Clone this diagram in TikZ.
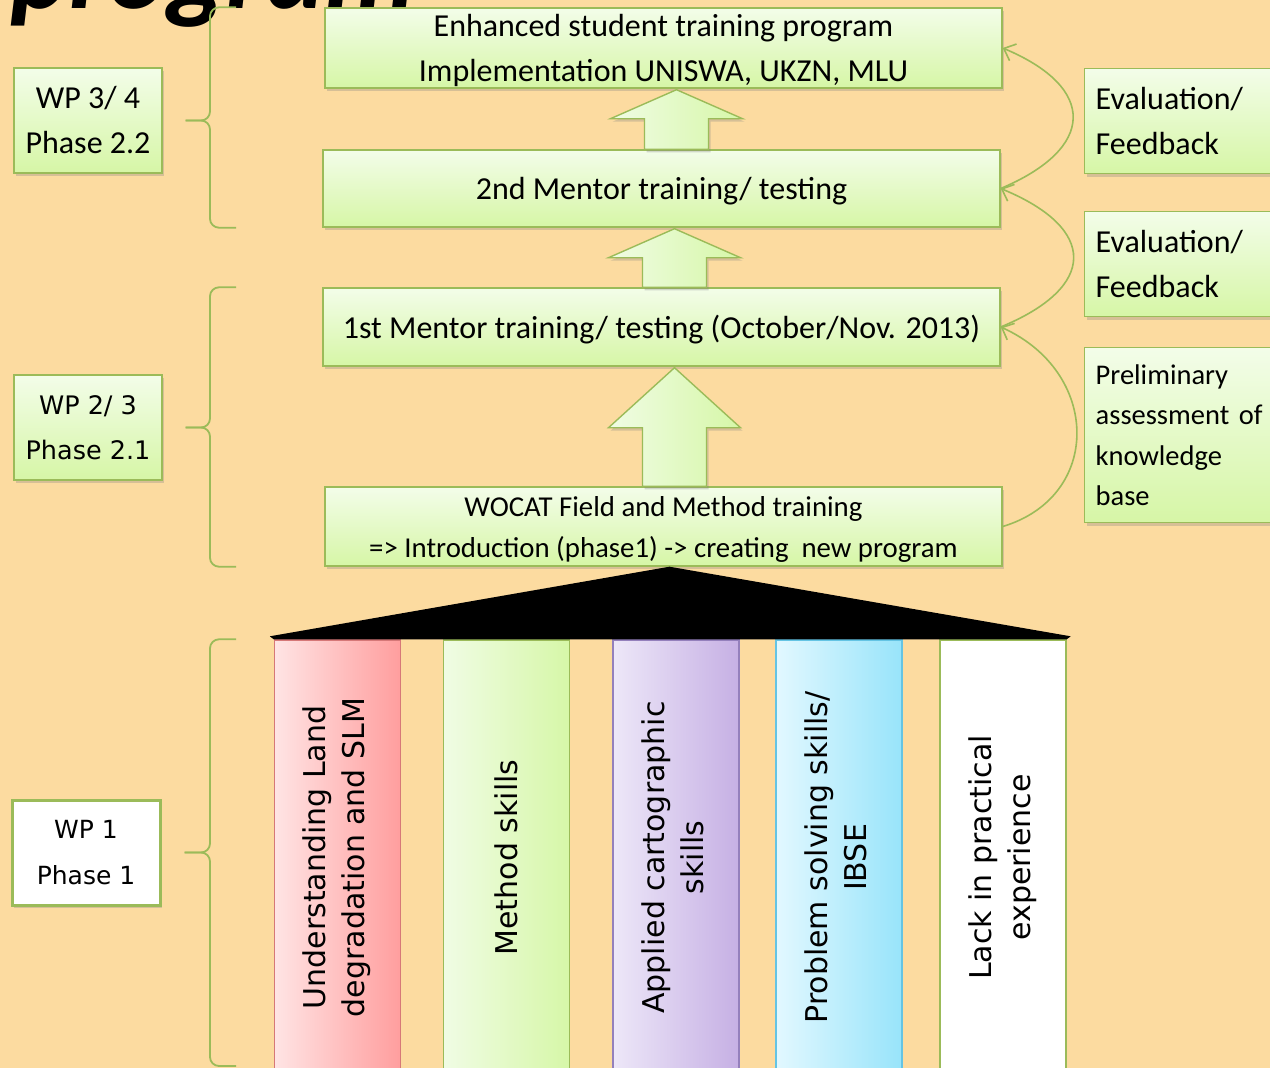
\documentclass[tikz,border=0pt]{standalone}
\usepackage{fontspec}
\setmainfont{Carlito}
\newfontfamily\vfont{DejaVu Sans}
\usetikzlibrary{arrows.meta,calc,shadows}
\definecolor{sand}{RGB}{252,219,160}
\definecolor{leafline}{RGB}{155,187,89}
\definecolor{leaftop}{RGB}{243,253,233}
\definecolor{leafbot}{RGB}{214,246,166}
\definecolor{leafleft}{RGB}{240,252,228}
\definecolor{leafright}{RGB}{214,247,168}
\definecolor{roseleft}{RGB}{255,228,228}
\definecolor{roseright}{RGB}{255,158,158}
\definecolor{roseline}{RGB}{214,120,120}
\definecolor{lilacleft}{RGB}{237,231,248}
\definecolor{lilacright}{RGB}{198,176,228}
\definecolor{lilacline}{RGB}{148,128,188}
\definecolor{skyleft}{RGB}{226,248,255}
\definecolor{skyright}{RGB}{152,228,250}
\definecolor{skyline}{RGB}{100,196,228}
\definecolor{chalkleft}{RGB}{255,255,255}
\definecolor{chalkright}{RGB}{255,255,255}
\colorlet{chalkline}{leafline}

\tikzset{
  boxshadow/.style={drop shadow={shadow xshift=2pt, shadow yshift=-3pt, opacity=.3, fill=black!50}},
  basebox/.style={draw=leafline, line width=1.4pt, top color=leaftop, bottom color=leafbot,
                  inner sep=0pt, align=center, boxshadow, font=\fontsize{32}{45}\selectfont},
  stagebox/.style={basebox, minimum width=677pt, text depth=0pt},
  wpbox/.style={basebox, minimum width=148pt, minimum height=105pt},
  notebox/.style={basebox, anchor=north west, minimum width=200pt, text width=178pt, align=left},
  pillar/.style={draw=#1line, line width=1.4pt, left color=#1left, right color=#1right,
                 minimum width=126pt, minimum height=435pt, inner sep=0pt,
                 font=\vfont\fontsize{30}{39}\selectfont},
  fatarrow/.style={draw=leafline, line width=1.4pt, left color=leafleft, right color=leafright, boxshadow},
  feedback/.style={draw=leafline, line width=1.6pt, -{Straight Barb[length=10pt,width=18pt]}},
  wpbrace/.style={draw=leafline, line width=1.8pt, rounded corners=9pt}
}

\begin{document}
\begin{tikzpicture}[x=1pt,y=-1pt]
  \useasboundingbox (0,0) rectangle (1270,1068);
  \clip (0,0) rectangle (1270,1068);
  \fill[sand] (0,0) rectangle (1270,1068);

  % cut-off title
  \node[anchor=base west, inner sep=0pt, font=\fontsize{112}{112}\selectfont\bfseries\itshape] (title) at (10,9) {program};

  % training stages
  \node[stagebox, minimum height=80pt] (enh) at (663.5,48) {Enhanced student training program\\Implementation UNISWA, UKZN, MLU};
  \node[stagebox, minimum height=77pt] (mtwo) at (661.5,188.5) {2nd Mentor training/ testing};
  \node[stagebox, minimum height=78pt] (mone) at (661.5,327) {1st Mentor training/ testing (October/Nov. 2013)};
  \node[stagebox, minimum height=79pt, font=\fontsize{28.8}{41}\selectfont] (wocat) at (663.5,526.5)
       {WOCAT Field and Method training\\=> Introduction (phase1) -> creating\ \ new program};

  % pillars
  \node[pillar=rose]  (p1) at (337.5,857.5) {\rotatebox{90}{\begin{tabular}{@{}c@{}}Understanding Land\\degradation and SLM\end{tabular}}};
  \node[pillar=leaf]  (p2) at (506.5,857.5) {\rotatebox{90}{Method skills}};
  \node[pillar=lilac] (p3) at (676,857.5)   {\rotatebox{90}{\begin{tabular}{@{}c@{}}Applied cartographic\\skills\end{tabular}}};
  \node[pillar=sky]   (p4) at (839,857.5)   {\rotatebox{90}{\begin{tabular}{@{}c@{}}Problem solving skills/\\IBSE\end{tabular}}};
  \node[pillar=chalk] (p5) at (1003,857.5)  {\rotatebox{90}{\begin{tabular}{@{}c@{}}Lack in practical\\experience\end{tabular}}};
  \fill[black] ($(wocat.south)+(6,0)$) -- ($(p5.north east)+(4,-3)$) -- (p5.north east)
       -- (p1.north west) -- ($(p1.north west)+(-4,-3)$) -- cycle;

  % up arrows between stages
  \foreach \lo/\up/\hl in {wocat/mone/60, mone/mtwo/29, mtwo/enh/29}
    \draw[fatarrow] ($(\up.south)+(13,1)$) coordinate (tip) -- ++(66,\hl) -- ++(-34,0)
         -- ($(tip |- \lo.north)+(32,0)$) -- ++(-64,0) -- ($(tip)+(-32,\hl)$) -- ++(-34,0) -- cycle;

  % work packages
  \node[wpbox] (wp34) at (88,120.5) {WP 3/ 4\\Phase 2.2};
  \node[wpbox, font=\vfont\fontsize{25.5}{45}\selectfont] (wp23) at (88,427.5) {WP 2/ 3\\Phase 2.1};
  \node[wpbox, top color=white, bottom color=white, line width=3pt,
        font=\vfont\fontsize{25}{46}\selectfont] (wp1) at (86,852.5) {WP 1\\Phase 1};

  \coordinate (hook) at (236,0);
  \coordinate (spine) at (210,0);
  \coordinate (floor) at (0,1066);
  \foreach \wp/\hi/\lo in {wp34/enh.north/mtwo.south, wp23/mone.north/wocat.south, wp1/p1.north/floor}{
    \draw[wpbrace] (hook |- \hi) -| (spine |- \wp.east) -- ($(\wp.east)+(23,0)$);
    \draw[wpbrace] (hook |- \lo) -| (spine |- \wp.east) -- ($(\wp.east)+(23,0)$);
  }

  % notes on the right
  \node[notebox, minimum height=105pt] (eval1) at (1084,68) {Evaluation/\\Feedback};
  \node[notebox, minimum height=105pt] (eval2) at (1084,211) {Evaluation/\\Feedback};
  \node[notebox, minimum height=175pt, font=\fontsize{28.5}{40.3}\selectfont] (prelim) at (1084,347)
       {Preliminary\\assessment of\\knowledge\\base};

  \draw[feedback] (wocat.east) .. controls +(100,-30) and +(100,45) .. (mone.east);
  \draw[feedback] (mone.east) .. controls +(97,-40) and +(97,40) .. (mtwo.east);
  \draw[feedback] (mtwo.east) .. controls +(95,-40) and +(95,40) .. (enh.east);
\end{tikzpicture}
\end{document}
